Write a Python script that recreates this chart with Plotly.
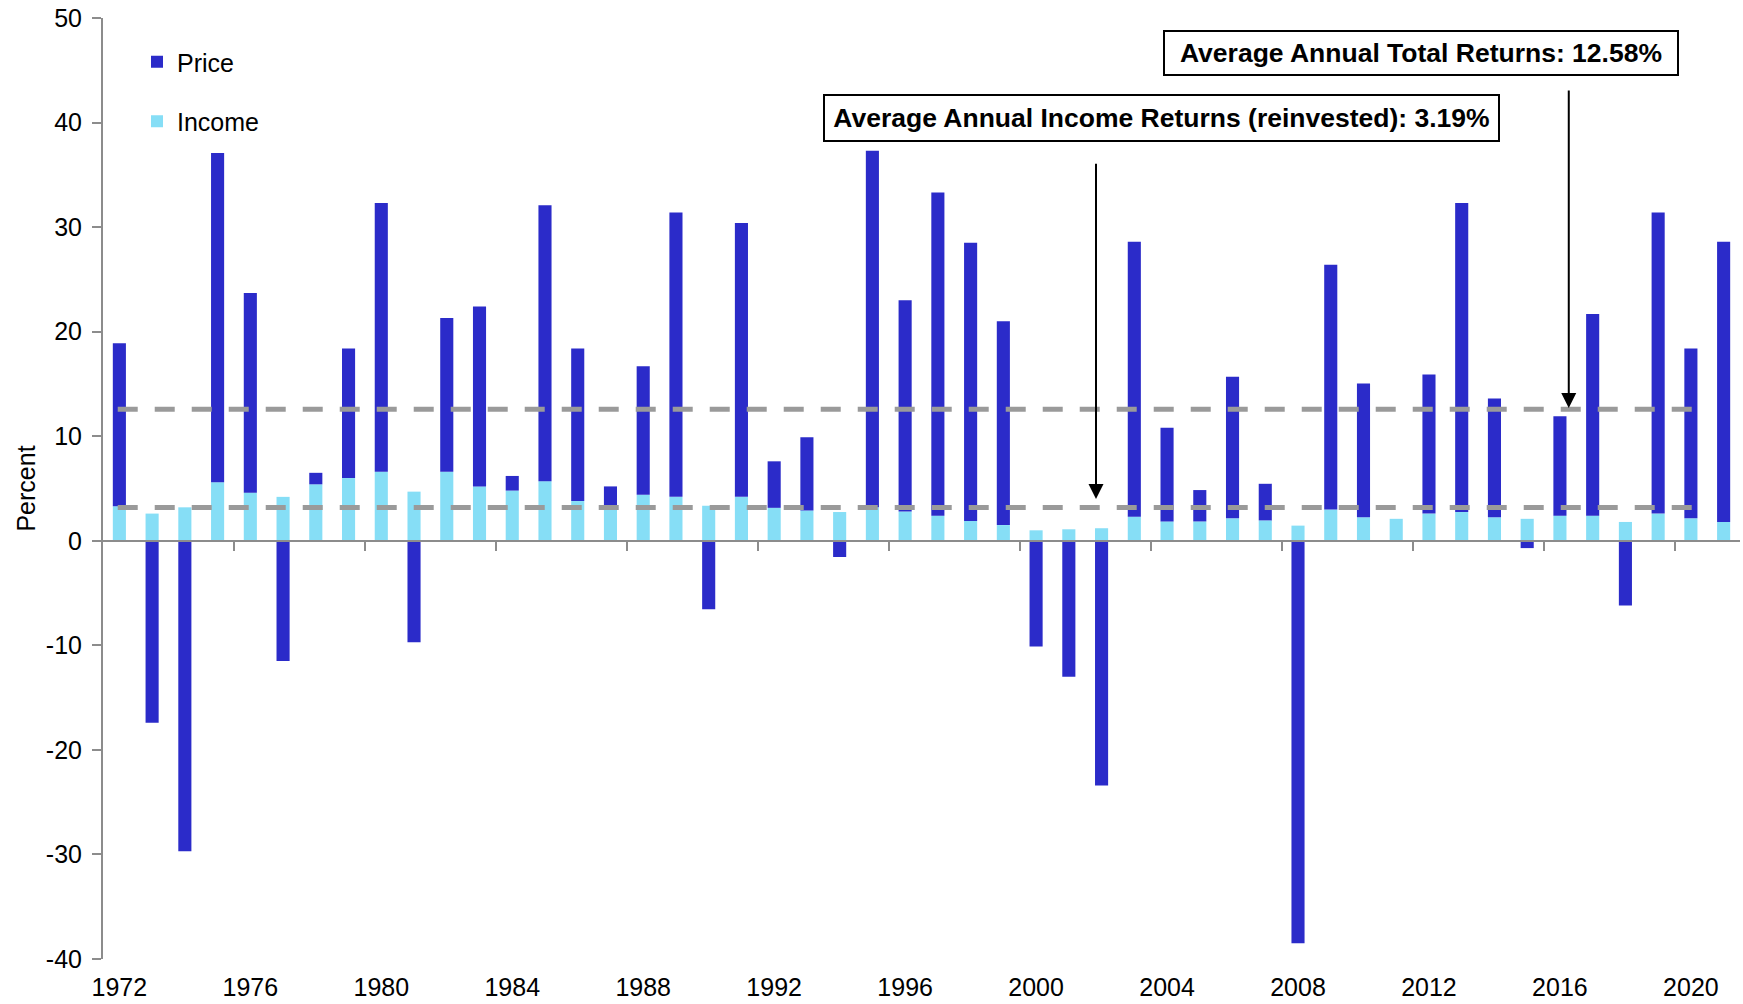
import plotly.graph_objects as go

# ---------------- data ----------------
years = list(range(1972, 2022))
income = [3.3, 2.6, 3.2, 5.6, 4.6, 4.2, 5.4, 6.0, 6.6, 4.7,
          6.6, 5.2, 4.8, 5.7, 3.8, 3.2, 4.4, 4.2, 3.35, 4.2,
          3.15, 2.9, 2.75, 3.2, 2.8, 2.4, 1.9, 1.5, 1.0, 1.1,
          1.2, 2.3, 1.85, 1.85, 2.15, 1.95, 1.45, 3.0, 2.25, 2.1,
          2.6, 2.75, 2.25, 2.1, 2.4, 2.4, 1.8, 2.6, 2.15, 1.8]
price = [15.6, -17.4, -29.7, 31.5, 19.1, -11.5, 1.1, 12.4, 25.7, -9.7,
         14.7, 17.2, 1.4, 26.4, 14.6, 2.0, 12.3, 27.2, -6.55, 26.2,
         4.45, 7.0, -1.55, 34.1, 20.2, 30.9, 26.6, 19.5, -10.1, -13.0,
         -23.4, 26.3, 8.95, 3.0, 13.55, 3.5, -38.5, 23.4, 12.8, 0.0,
         13.3, 29.55, 11.35, -0.7, 9.5, 19.3, -6.2, 28.8, 16.25, 26.8]
avg_total = 12.58
avg_income = 3.19
year_ticks = years[::4]
y_ticks = list(range(-40, 51, 10))
y_ticktext = [str(v) for v in y_ticks]  # plain hyphen minus, as in the original

# ---------------- styling ----------------
DARK = "#2B2BC9"
LIGHT = "#86DEF6"
AXIS = "#8C8C8C"
DASH = "#9A9A9A"
FONT = "Liberation Sans, Arial, sans-serif"
W, H = 1743, 1004
ML, MR, MT, MB = 103, 3, 18, 45


def px_x(p):
    return (p - ML) / (W - ML - MR)


def px_y(p):
    return (H - MB - p) / (H - MT - MB)


fig = go.Figure()
fig.add_trace(go.Bar(x=years, y=income, name="Income", marker=dict(color=LIGHT, line=dict(width=0)),
                     legendgroup="i", legendrank=2))
fig.add_trace(go.Bar(x=years, y=price, name="Price", marker=dict(color=DARK, line=dict(width=0)),
                     legendgroup="p", legendrank=1))

line_x = [years[0] - 0.05, years[-1] - 0.55]
for v in (avg_total, avg_income):
    fig.add_trace(go.Scatter(x=line_x, y=[v, v], mode="lines", xaxis="x2", yaxis="y",
                             line=dict(color=DASH, width=5, dash="20px,17px"),
                             showlegend=False, hoverinfo="skip"))

fig.update_layout(
    width=W, height=H,
    margin=dict(l=ML, r=MR, t=MT, b=MB, autoexpand=False),
    paper_bgcolor="white", plot_bgcolor="white",
    barmode="relative", bargap=0.6,
    font=dict(family=FONT, size=25, color="black"),
    showlegend=True,
    legend=dict(x=px_x(137), y=px_y(39), xanchor="left", yanchor="top",
                bgcolor="rgba(0,0,0,0)", font=dict(size=25), tracegroupgap=24,
                traceorder="grouped"),
    xaxis=dict(range=[years[0] - 0.5, years[-1] + 0.5], tickvals=year_ticks,
               ticktext=[str(y) for y in year_ticks], showline=False, showgrid=False,
               zeroline=False, ticks="", tickfont=dict(size=25), ticklabelstandoff=11),
    xaxis2=dict(matches="x", overlaying="x", anchor="free",
                position=(0 - y_ticks[0]) / (y_ticks[-1] - y_ticks[0]),
                tickvals=[y + 3.5 for y in year_ticks[:-1]] + [year_ticks[-1] - 0.5],
                showticklabels=False, ticks="outside", ticklen=9, tickwidth=2, tickcolor=AXIS,
                showline=True, linecolor=AXIS, linewidth=2, showgrid=False, zeroline=False),
    yaxis=dict(range=[y_ticks[0], y_ticks[-1]], tickvals=y_ticks, ticktext=y_ticktext,
               showgrid=False, zeroline=False,
               showline=True, linecolor=AXIS, linewidth=2, ticks="outside", ticklen=9,
               tickwidth=2, tickcolor=AXIS, tickfont=dict(size=25), ticklabelstandoff=5,
               title=dict(text="Percent", font=dict(size=25), standoff=3)),
)

# annotation boxes
fig.add_annotation(xref="paper", yref="paper", x=px_x(1421), y=px_y(53),
                   xanchor="center", yanchor="middle",
                   text="<b>Average Annual Total Returns: 12.58%</b>",
                   font=dict(size=26.5, family=FONT, color="black"),
                   showarrow=False, bordercolor="black", borderwidth=2, borderpad=0,
                   bgcolor="white", width=512, height=42)
fig.add_annotation(xref="paper", yref="paper", x=px_x(1161.5), y=px_y(117.5),
                   xanchor="center", yanchor="middle",
                   text="<b>Average Annual Income Returns (reinvested): 3.19%</b>",
                   font=dict(size=26.5, family=FONT, color="black"),
                   showarrow=False, bordercolor="black", borderwidth=2, borderpad=0,
                   bgcolor="white", width=673, height=44)

# arrows
arrow_total_x = years[44] + 0.27
arrow_income_x = years[30] - 0.17
fig.add_annotation(xref="x", yref="y", axref="x", ayref="y",
                   x=arrow_total_x, y=12.7, ax=arrow_total_x, ay=43.2, text="",
                   showarrow=True, arrowhead=2, arrowsize=1.5, arrowwidth=2, arrowcolor="black")
fig.add_annotation(xref="x", yref="y", axref="x", ayref="y",
                   x=arrow_income_x, y=4.0, ax=arrow_income_x, ay=36.2, text="",
                   showarrow=True, arrowhead=2, arrowsize=1.5, arrowwidth=2, arrowcolor="black")

fig.write_html("out.html", config={"displayModeBar": False},
               post_script="document.body.style.margin='0';document.body.style.overflow='hidden';")
